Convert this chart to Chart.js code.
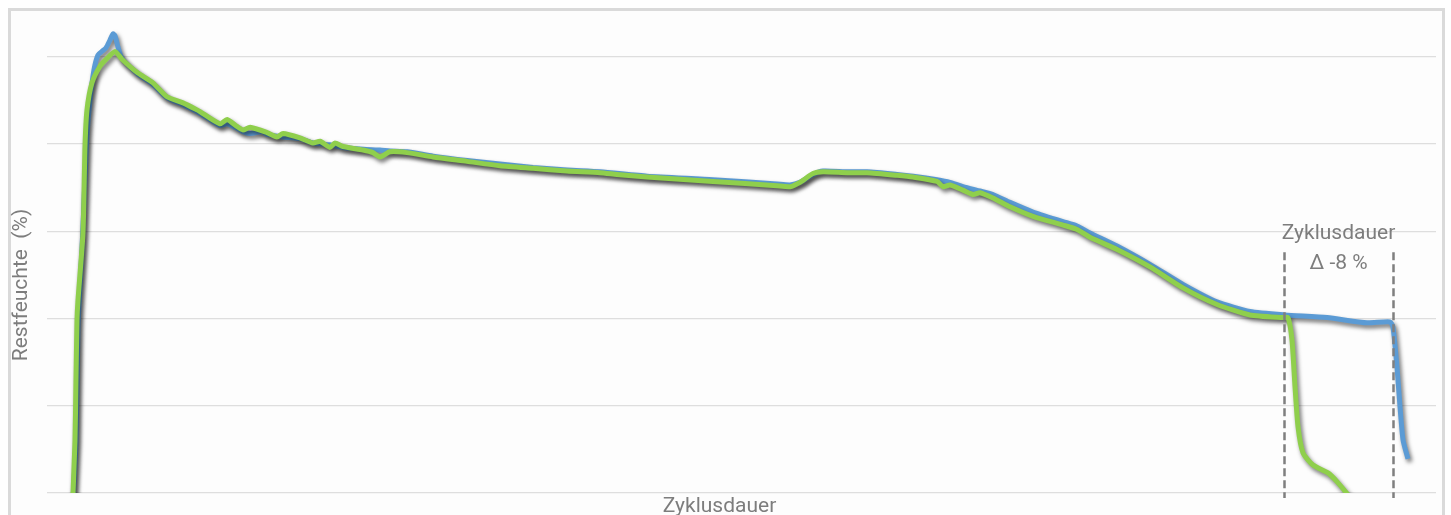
<!DOCTYPE html>
<html lang="de">
<head>
<meta charset="utf-8">
<title>Restfeuchte über Zyklusdauer</title>
<script src="https://cdn.jsdelivr.net/npm/chart.js@4"></script>
<style>
  html, body { margin: 0; padding: 0; background: #fff; }
  .frame {
    position: absolute;
    left: 8px;
    top: 8px;
    width: 1431px;
    height: 600px;
    border: 3px solid #dadada;
    background: #fdfdfd;
  }
  .chart-box {
    position: absolute;
    left: 0;
    top: 0;
    width: 1451px;
    height: 515px;
  }
</style>
</head>
<body>
<div class="frame"></div>
<div class="chart-box"><canvas id="feuchte-chart"></canvas></div>
<script>
// Zeitachse ohne Beschriftung
const zeitBlau = [25, 29, 31, 35, 38, 40, 43, 47, 51, 55, 59, 63, 66, 68, 71, 75, 90, 106, 120, 136, 150, 160, 173, 180, 190, 196, 203, 215, 220, 236, 253, 266, 283, 296, 316, 333, 343, 360, 386, 420, 453, 486, 520, 553, 600, 666, 730, 743, 753, 766, 776, 800, 820, 850, 866, 890, 903, 916, 933, 946, 963, 986, 1016, 1030, 1043, 1070, 1103, 1136, 1170, 1203, 1238, 1280, 1320, 1343, 1346, 1350, 1353, 1356, 1361];
const feuchteBlau = [-3, 6, 19, 28, 36, 41, 45, 48.5, 50.2, 50.6, 51, 51.9, 52.6, 52.4, 51.1, 49.8, 48.1, 46.8, 45.3, 44.5, 43.7, 43, 42.1, 42.3, 41.8, 41.4, 41.2, 41.4, 41.1, 40.8, 40.6, 40.1, 39.9, 39.6, 39.4, 39.3, 39.2, 39.1, 38.6, 38.1, 37.7, 37.3, 37, 36.8, 36.3, 35.9, 35.4, 35.3, 35.6, 36.5, 36.9, 36.8, 36.8, 36.5, 36.3, 35.9, 35.6, 35.1, 34.6, 34.2, 33.3, 32.2, 31.1, 30.6, 29.8, 28.3, 26.2, 23.9, 21.9, 20.8, 20.4, 20.1, 19.5, 19.6, 19, 14.4, 9.9, 6.1, 3.9];

const zeitGruen = [25, 28, 29, 30, 31, 36, 38, 40, 45, 53, 60, 68, 75, 90, 106, 120, 136, 150, 153, 173, 180, 190, 196, 203, 220, 230, 236, 253, 266, 273, 283, 288, 296, 316, 326, 333, 343, 360, 386, 420, 453, 486, 520, 553, 570, 600, 666, 730, 743, 753, 766, 776, 800, 820, 850, 866, 890, 896, 903, 916, 926, 933, 946, 963, 986, 1016, 1030, 1043, 1070, 1103, 1136, 1170, 1203, 1236, 1241, 1245, 1248, 1251, 1256, 1266, 1281, 1290, 1301, 1310];
const feuchteGruen = [-3, 6, 13, 19.8, 22.1, 29.8, 39.7, 43.9, 47, 48.9, 49.8, 50.6, 49.7, 48.2, 47, 45.4, 44.7, 43.9, 43.7, 42.3, 42.8, 42, 41.6, 41.9, 41.3, 40.8, 41.2, 40.7, 40.1, 40.3, 39.6, 40.1, 39.7, 39.3, 39, 38.5, 39.1, 39, 38.5, 38, 37.5, 37.2, 36.9, 36.7, 36.5, 36.2, 35.7, 35.2, 35.1, 35.6, 36.6, 36.8, 36.7, 36.7, 36.4, 36.2, 35.7, 35.1, 35.3, 34.7, 34.2, 34.4, 33.8, 32.8, 31.7, 30.7, 30.2, 29.3, 27.9, 25.9, 23.5, 21.6, 20.4, 20.1, 20.1, 17.5, 12.2, 7.6, 4.6, 3.2, 2.3, 1.3, -0.2, -1.5];

// Markierung Zyklusende (grün / blau) und Beschriftung
const zyklusEnde = [1237, 1346];
const markerOben = 27.6;
const markerText = ['Zyklusdauer', 'Δ -8 %'];

const achsenTitel = { x: 'Zyklusdauer', y: 'Restfeuchte  (%)' };
const gitterWerte = [0, 10, 20, 30, 40, 50];

const COLORS = {
  blau: '#5b9bd5',
  gruen: '#8fcf4c',
  grid: '#dedede',
  text: '#7d7d7d',
  dash: '#7f7f7f'
};
const FONT = '21px Roboto, "Noto Sans", sans-serif';

function toPoints(xs, ys) {
  return xs.map((x, i) => ({ x, y: ys[i] }));
}

const shadowPlugin = {
  id: 'lineShadow',
  beforeDatasetDraw(chart) {
    const ctx = chart.ctx;
    ctx.save();
    ctx.shadowColor = 'rgba(0, 0, 0, 0.55)';
    ctx.shadowBlur = 4;
    ctx.shadowOffsetX = 2;
    ctx.shadowOffsetY = 3;
  },
  afterDatasetDraw(chart) {
    chart.ctx.restore();
  }
};

const labelPlugin = {
  id: 'labels',
  afterDatasetsDraw(chart) {
    const { ctx, chartArea, scales } = chart;
    const x = scales.x;
    const y = scales.y;

    // gestrichelte Linien
    ctx.save();
    ctx.strokeStyle = COLORS.dash;
    ctx.lineWidth = 2.5;
    ctx.setLineDash([8, 4]);
    const top = y.getPixelForValue(markerOben);
    zyklusEnde.forEach((value) => {
      const px = Math.round(x.getPixelForValue(value)) + 0.5;
      ctx.beginPath();
      ctx.moveTo(px, top);
      ctx.lineTo(px, chartArea.bottom + 5);
      ctx.stroke();
    });
    ctx.restore();

    ctx.save();
    ctx.fillStyle = COLORS.text;
    ctx.font = FONT;
    ctx.textAlign = 'center';
    ctx.textBaseline = 'middle';

    const mid = (x.getPixelForValue(zyklusEnde[0]) + x.getPixelForValue(zyklusEnde[1])) / 2;
    ctx.fillText(markerText[0], mid, top - 18);
    ctx.fillText(markerText[1], mid, top + 12);

    ctx.fillText(achsenTitel.x, (chartArea.left + chartArea.right) / 2 - 22, chartArea.bottom + 14);

    ctx.translate(22, 285);
    ctx.rotate(-Math.PI / 2);
    ctx.fillText(achsenTitel.y, 0, 0);
    ctx.restore();
  }
};

new Chart(document.getElementById('feuchte-chart'), {
  type: 'line',
  data: {
    datasets: [
      {
        label: 'Referenz',
        data: toPoints(zeitBlau, feuchteBlau),
        borderColor: COLORS.blau,
        borderWidth: 5,
        pointRadius: 0,
        tension: 0.2,
        order: 1
      },
      {
        label: 'Optimiert',
        data: toPoints(zeitGruen, feuchteGruen),
        borderColor: COLORS.gruen,
        borderWidth: 5,
        pointRadius: 0,
        tension: 0.2,
        order: 0
      }
    ]
  },
  options: {
    responsive: true,
    maintainAspectRatio: false,
    animation: false,
    layout: { padding: { left: 0, right: 15, top: 13, bottom: 0 } },
    plugins: {
      legend: { display: false },
      tooltip: { enabled: false }
    },
    scales: {
      x: {
        type: 'linear',
        min: 0,
        max: 1389,
        grid: { display: false },
        border: { display: false },
        ticks: { display: false },
        afterFit(scale) { scale.height = 22; }
      },
      y: {
        min: 0,
        max: 55,
        ticks: { display: false, stepSize: 10 },
        border: { display: false },
        grid: {
          color: (c) => (gitterWerte.includes(c.tick.value) ? COLORS.grid : 'rgba(0,0,0,0)'),
          lineWidth: 1.2,
          drawTicks: false
        },
        afterFit(scale) { scale.width = 47; }
      }
    }
  },
  plugins: [shadowPlugin, labelPlugin]
});
</script>
</body>
</html>
